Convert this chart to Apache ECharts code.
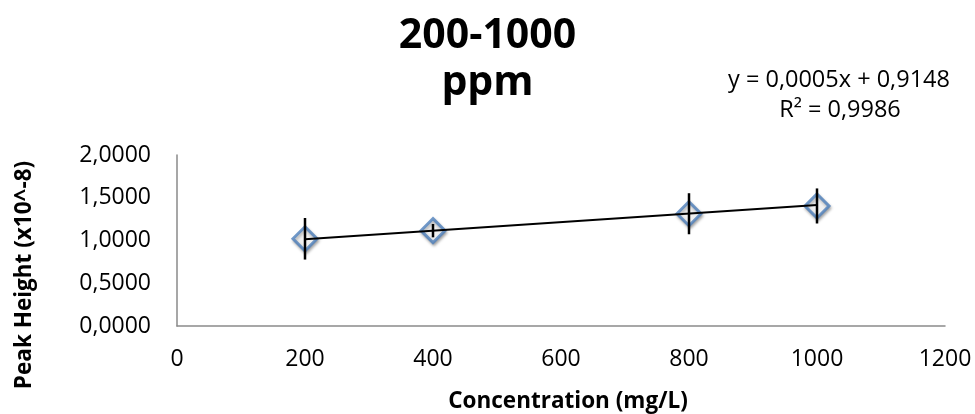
<!DOCTYPE html>
<html>
<head>
<meta charset="utf-8">
<script src="https://cdn.jsdelivr.net/npm/echarts@6/dist/echarts.min.js"></script>
<style>
  html, body { margin: 0; padding: 0; background: #fff; }
  #chart { width: 975px; height: 414px; }
</style>
</head>
<body>
<div id="chart"></div>
<script>
// Calibration points: concentration (mg/L), peak height (x10^-8), spread
const concentration = [200, 400, 800, 1000];
const peakHeight = [1.02, 1.115, 1.313, 1.404];
const errorSize = [0.243, 0.078, 0.24, 0.205];

// Linear fit as printed on the chart
const fitSlope = 0.0005;
const fitIntercept = 0.9148;
const fitRange = [200, 1000];
const fitLabel = 'y = 0,0005x + 0,9148';
const r2Label = 'R² = 0,9986';

const titleLines = ['200-1000', 'ppm'];
const xTitle = 'Concentration (mg/L)';
const yTitle = 'Peak Height (x10^-8)';

const FONT = '"Open Sans", "Noto Sans", sans-serif';

const points = concentration.map((c, i) => [c, peakHeight[i]]);
const bars = concentration.map((c, i) => [c, peakHeight[i], errorSize[i]]);
const fitLine = fitRange.map(x => [x, fitSlope * x + fitIntercept]);

const chart = echarts.init(document.getElementById('chart'));
chart.setOption({
  animation: false,
  backgroundColor: '#fff',
  grid: { left: 177, right: 30, top: 155, bottom: 88, containLabel: false },
  xAxis: {
    type: 'value', min: 0, max: 1200, interval: 200,
    axisLine: { show: true, lineStyle: { color: '#8a8a8a', width: 1.5 } },
    axisTick: { show: false },
    splitLine: { show: false },
    axisLabel: { color: '#000', fontFamily: FONT, fontSize: 23, margin: 22, formatter: v => String(v) }
  },
  yAxis: {
    type: 'value', min: 0, max: 2, interval: 0.5,
    axisLine: { show: true, lineStyle: { color: '#8a8a8a', width: 1.5 } },
    axisTick: { show: false },
    splitLine: { show: false },
    axisLabel: {
      color: '#000', fontFamily: FONT, fontSize: 23, margin: 26,
      formatter: v => v.toFixed(4).replace('.', ',')
    }
  },
  graphic: [
    {
      type: 'text', left: 'center', top: 13,
      style: {
        text: titleLines.join('\n'), fill: '#000', font: 'bold 41px ' + FONT,
        textAlign: 'center', lineHeight: 47
      }
    },
    {
      type: 'text', x: 839, y: 80,
      style: { text: fitLabel, fill: '#000', font: '23.5px ' + FONT, textAlign: 'center', textVerticalAlign: 'middle' }
    },
    {
      type: 'text', x: 840, y: 110,
      style: { text: r2Label, fill: '#000', font: '23.5px ' + FONT, textAlign: 'center', textVerticalAlign: 'middle' }
    },
    {
      type: 'text', x: 568, y: 402,
      style: { text: xTitle, fill: '#000', font: 'bold 22.5px ' + FONT, textAlign: 'center', textVerticalAlign: 'middle' }
    },
    {
      type: 'text', x: 25, y: 275, rotation: Math.PI / 2,
      style: { text: yTitle, fill: '#000', font: 'bold 22.5px ' + FONT, textAlign: 'center', textVerticalAlign: 'middle' }
    }
  ],
  series: [
    {
      type: 'scatter',
      data: points,
      symbol: 'diamond',
      symbolSize: 24,
      z: 2,
      itemStyle: {
        color: '#fff', borderColor: '#4F81BD', borderWidth: 3,
        shadowColor: 'rgba(0,0,0,0.35)', shadowBlur: 3, shadowOffsetX: 1, shadowOffsetY: 2
      }
    },
    {
      type: 'line',
      data: fitLine,
      showSymbol: false,
      z: 3,
      lineStyle: { color: '#000', width: 2 }
    },
    {
      type: 'custom',
      data: bars,
      z: 4,
      renderItem: (params, api) => {
        const x = api.value(0), y = api.value(1), e = api.value(2);
        const top = api.coord([x, y + e]);
        const bot = api.coord([x, y - e]);
        return {
          type: 'line',
          shape: { x1: top[0], y1: top[1], x2: bot[0], y2: bot[1] },
          style: { stroke: '#000', lineWidth: 2.5 }
        };
      }
    }
  ]
});
</script>
</body>
</html>
